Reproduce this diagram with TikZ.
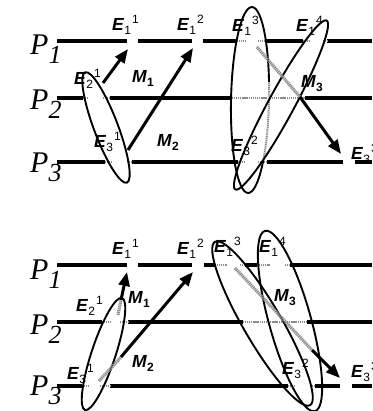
\documentclass[tikz,border=0pt]{standalone}
\usepackage{fontspec}
\setmainfont{Liberation Serif}
\newfontfamily\arialfont{Liberation Sans}
\usetikzlibrary{arrows.meta}

\newcommand{\plab}[1]{P\raisebox{-9pt}{\fontsize{26}{26}\selectfont #1}}
\newcommand{\evlab}[2]{\textbf{\textit{E}}\raisebox{-3.5pt}{\fontsize{12}{12}\selectfont #1}\hspace{1.2pt}\raisebox{7.5pt}{\fontsize{12}{12}\selectfont #2}}
\newcommand{\msglab}[1]{\textbf{\textit{M}}\raisebox{-3.5pt}{\fontsize{12}{12}\selectfont\bfseries #1}}

\begin{document}
\begin{tikzpicture}[x=1pt, y=1pt,
  proc/.style={line width=3.2pt},
  ghost/.style={draw=black!45, line width=2.6pt, dash pattern=on 1.2pt off 0.7pt,
                preaction={draw=white, solid, line width=3.6pt}},
  gmsg/.style={draw=black!45, line width=3.2pt, dash pattern=on 1.2pt off 0.7pt},
  cut/.style={line width=1.9pt},
  msg/.style={line width=3pt, -{Triangle[length=14pt,width=11pt]}},
  ev/.style={minimum width=#1, minimum height=0pt, inner sep=0pt, outer sep=0pt},
  plbl/.style={font=\fontsize{30}{30}\selectfont\itshape, anchor=base west, inner sep=0pt},
  lbl/.style={font=\arialfont\fontsize{17.5}{17.5}\selectfont, anchor=base west, inner sep=0pt}]

\useasboundingbox (0,0) rectangle (372,411);
\clip (0,0) rectangle (372,411);

% =================================================================================
% TOP: three processes
% =================================================================================
\node[plbl] (p1) at (30,356) {\plab{1}};
\node[plbl] (p2) at (30,301) {\plab{2}};
\node[plbl] (p3) at (30,238) {\plab{3}};

\coordinate (a1) at (57,370);  \coordinate (z1) at (372,370);
\coordinate (a2) at (57,313);  \coordinate (z2) at (372,313);
\coordinate (a3) at (57,249);  \coordinate (z3) at (372,249);

\node[ev=11] (e11) at (132.5,370) {};
\node[ev=11] (e12) at (197.5,370) {};
\node[ev=13] (e13) at (251.5,370) {};
\node[ev=13] (e14) at (316.5,370) {};
\node[ev=15] (e21) at (95.5,313) {};
\node[ev=15] (e31) at (119.5,249) {};
\node[ev=13] (e32) at (251.5,249) {};
\node[ev=12] (e33) at (349,249) {};

\draw[proc] (a1) -- (e11.west) (e11.east) -- (e12.west) (e12.east) -- (e13.west)
            (e13.east) -- (e14.west) (e14.east) -- (z1);
\draw[proc] (a2) -- (e21.west) (e21.east) -- (z2);
\draw[proc] (a3) -- (e31.west) (e31.east) -- (e32.west) (e32.east) -- (e33.west) (e33.east) -- (z3);

\coordinate (g1) at (232,313);  \coordinate (g2) at (305,313);
\draw[ghost] ([xshift=-8pt]e13.west) -- (e13.west) (e13.east) -- ([xshift=7pt]e13.east);
\draw[ghost] ([xshift=-7pt]e14.west) -- (e14.west) (e14.east) -- ([xshift=4pt]e14.east);
\draw[ghost] ([xshift=-5pt]e21.west) -- (e21.west) (e21.east) -- ([xshift=7pt]e21.east);
\draw[ghost] ([xshift=-7pt]e31.west) -- (e31.west) (e31.east) -- ([xshift=5pt]e31.east);
\draw[ghost] ([xshift=-7pt]e32.west) -- (e32.west) (e32.east) -- ([xshift=9pt]e32.east);
\draw[ghost] (g1) -- (g2);

% cuts
\coordinate (o1) at (106,283.5);
\coordinate (o2) at (250,311);
\coordinate (o3) at (281,306);
\draw[cut, rotate around={110.7:(o1)}] (o1) ellipse [x radius=59, y radius=12];
\draw[cut, rotate around={88.8:(o2)}]  (o2) ellipse [x radius=93, y radius=19];
\begin{scope}
  \clip (262,251) rectangle (282,328);
  \draw[ghost, line width=2pt, rotate around={88.8:(o2)}] (o2) ellipse [x radius=93, y radius=19];
\end{scope}
\draw[cut, rotate around={61.6:(o3)}]  (o3) ellipse [x radius=96, y radius=13];

% messages
\coordinate (m1s) at (103,328);  \coordinate (m1t) at (128,362);
\coordinate (m2s) at (128,261);  \coordinate (m2t) at (193,363);
\coordinate (m3s) at (257,364);  \coordinate (m3k) at (300,314);  \coordinate (m3t) at (341,257);
\draw[msg] (m1s) -- (m1t);
\draw[msg] (m2s) -- (m2t);
\draw[gmsg] (m3s) -- (m3k);
\draw[msg] (m3k) -- (m3t);

\node[lbl] (le11) at (112,380) {\evlab{1}{1}};
\node[lbl] (le12) at (177,380) {\evlab{1}{2}};
\node[lbl] (le13) at (232,379) {\evlab{1}{3}};
\node[lbl] (le14) at (296,379) {\evlab{1}{4}};
\node[lbl] (le21) at (74,326)  {\evlab{2}{1}};
\node[lbl] (le31) at (94,263)  {\evlab{3}{1}};
\node[lbl] (le32) at (231,259) {\evlab{3}{2}};
\node[lbl] (le33) at (351,251) {\evlab{3}{3}};
\node[lbl] (lm1) at (132,328) {\msglab{1}};
\node[lbl] (lm2) at (157,264) {\msglab{2}};
\node[lbl] (lm3) at (301,323) {\msglab{3}};

% =================================================================================
% BOTTOM: the same processes, other cuts
% =================================================================================
\node[plbl] (q1) at (30,131) {\plab{1}};
\node[plbl] (q2) at (30,76)  {\plab{2}};
\node[plbl] (q3) at (30,15)  {\plab{3}};

\coordinate (b1) at (57,146);  \coordinate (y1) at (372,146);
\coordinate (b2) at (57,89);   \coordinate (y2) at (372,89);
\coordinate (b3) at (57,25);   \coordinate (y3) at (372,25);

\node[ev=11] (f11) at (132.5,146) {};
\node[ev=12] (f12) at (198,146) {};
\node[ev=13] (f13) at (233.5,146) {};
\node[ev=15] (f14) at (277.5,146) {};
\node[ev=10] (f21) at (115,89) {};
\node[ev=12] (f31) at (94,25) {};
\node[ev=15] (f32) at (302.5,25) {};
\node[ev=12] (f33) at (346,25) {};

\draw[proc] (b1) -- (f11.west) (f11.east) -- (f12.west) (f12.east) -- (f13.west)
            (f13.east) -- (f14.west) (f14.east) -- (y1);
\draw[proc] (b2) -- (f21.west) (f21.east) -- (y2);
\draw[proc] (b3) -- (f31.west) (f31.east) -- (f32.west) (f32.east) -- (f33.west) (f33.east) -- (y3);

\coordinate (h1) at (243,89);  \coordinate (h2) at (307,89);
\draw[ghost] ([xshift=-12pt]f13.west) -- (f13.west) (f13.east) -- ([xshift=5pt]f13.east);
\draw[ghost] ([xshift=-13pt]f14.west) -- (f14.west) (f14.east) -- ([xshift=5pt]f14.east);
\draw[ghost] ([xshift=-8pt]f21.west) -- (f21.west) (f21.east) -- ([xshift=8pt]f21.east);
\draw[ghost] ([xshift=-6pt]f31.west) -- (f31.west) (f31.east) -- ([xshift=10pt]f31.east);
\draw[ghost] ([xshift=-7pt]f32.west) -- (f32.west) (f32.east) -- ([xshift=5pt]f32.east);
\draw[ghost] (h1) -- (h2);

% cuts
\coordinate (o4) at (103.5,57);
\coordinate (o5) at (262.5,87.5);
\coordinate (o6) at (290,90);
\draw[cut, rotate around={71.7:(o4)}]  (o4) ellipse [x radius=59, y radius=12];
\draw[cut, rotate around={120.2:(o5)}] (o5) ellipse [x radius=94.5, y radius=19];
\draw[cut, rotate around={105.5:(o6)}] (o6) ellipse [x radius=93.5, y radius=21];

% messages
\coordinate (n1s) at (118,96);   \coordinate (n1k) at (121,111);  \coordinate (n1t) at (127,139);
\coordinate (n2s) at (99,30);    \coordinate (n2k) at (121,54);   \coordinate (n2t) at (193,139);
\coordinate (n3s) at (235,143);  \coordinate (n3k) at (312,61);   \coordinate (n3t) at (340,33);
\draw[gmsg] (n1s) -- (n1k);
\draw[msg] (n1k) -- (n1t);
\draw[gmsg] (n2s) -- (n2k);
\draw[msg] (n2k) -- (n2t);
\draw[gmsg] (n3s) -- (n3k);
\draw[msg] (n3k) -- (n3t);

\node[lbl] (lf11) at (112,156) {\evlab{1}{1}};
\node[lbl] (lf12) at (177,156) {\evlab{1}{2}};
\node[lbl] (lf13) at (214,158) {\evlab{1}{3}};
\node[lbl] (lf14) at (259,158) {\evlab{1}{4}};
\node[lbl] (lf21) at (76,99)   {\evlab{2}{1}};
\node[lbl] (lf31) at (67,31)   {\evlab{3}{1}};
\node[lbl] (lf32) at (282,36)  {\evlab{3}{2}};
\node[lbl] (lf33) at (351,33)  {\evlab{3}{3}};
\node[lbl] (ln1) at (128,107) {\msglab{1}};
\node[lbl] (ln2) at (132,43)  {\msglab{2}};
\node[lbl] (ln3) at (274,109) {\msglab{3}};

\end{tikzpicture}
\end{document}
